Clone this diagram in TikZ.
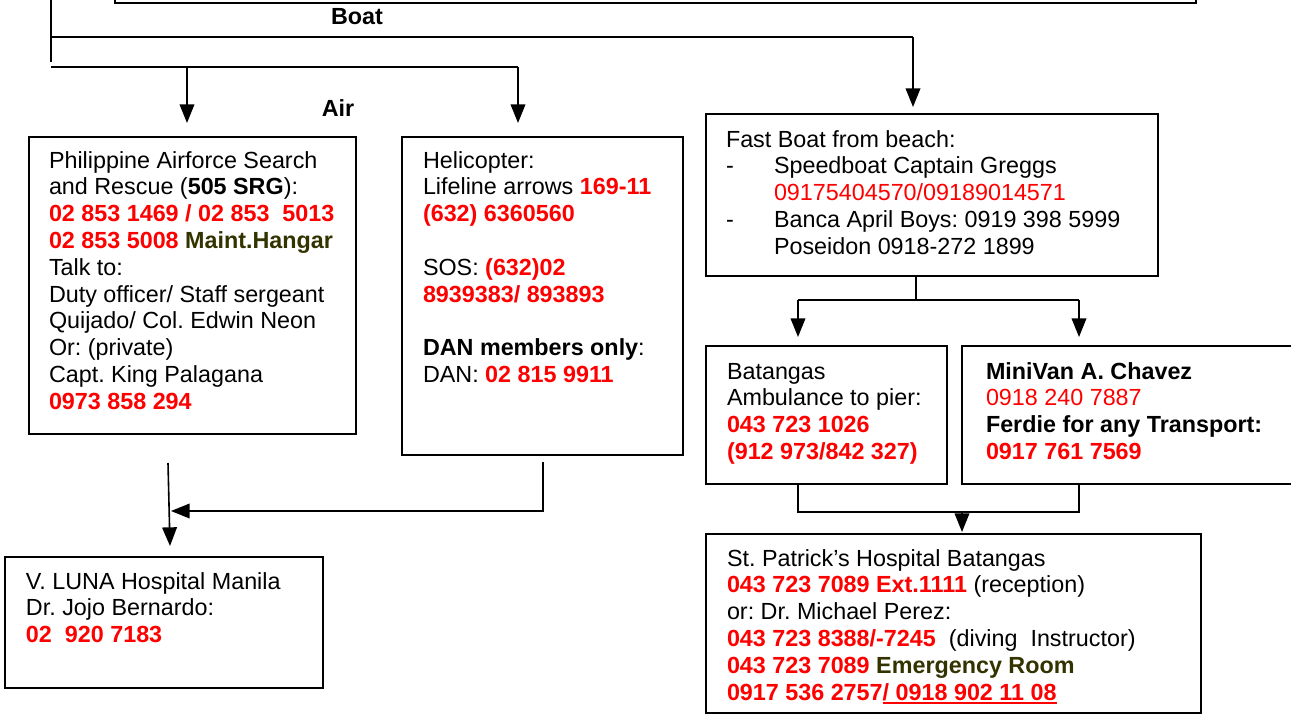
\documentclass[tikz,border=0pt]{standalone}
\usepackage{fontspec}
\setmainfont{Liberation Sans}
\usetikzlibrary{arrows.meta}
\definecolor{hotred}{RGB}{255,0,0}
\definecolor{darkolive}{RGB}{51,51,0}
\newcommand\rb[1]{\textcolor{hotred}{\textbf{#1}}}
\newcommand\rn[1]{\textcolor{hotred}{#1}}
\newcommand\ob[1]{\textcolor{darkolive}{\textbf{#1}}}
\newcommand\fstrut{\rule{0pt}{13pt}}
\newcommand\dsh{\makebox[36pt][l]{-}}
\newcommand\ind{\hspace*{36pt}}
\newcommand\thickul[1]{\setbox0\hbox{#1}\rlap{\rule[-3.2pt]{\wd0}{1.5pt}}\box0}
\begin{document}
\frenchspacing
\begin{tikzpicture}[x=0.75pt,y=-0.75pt,
  box/.style={draw, line width=1.3pt, inner sep=0pt, outer sep=0pt, anchor=north west},
  txt/.style={inner sep=0pt, outer sep=0pt, anchor=north west, align=left,
    font=\fontsize{17.5pt}{20.1pt}\selectfont},
  lbl/.style={inner sep=0pt, font=\fontsize{17.5pt}{20.1pt}\selectfont\bfseries},
  line/.style={line width=1.2pt},
  arr/.style={line width=1.2pt, -{Triangle[width=11pt,length=14pt]}}]
\useasboundingbox (0,0) rectangle (1291,715);
\fill[white] (0,0) rectangle (1291,715);

% boxes
\node[box, minimum width=1081*0.75pt, minimum height=40*0.75pt] (topbox) at (115,-37) {};
\node[box, minimum width=327*0.75pt, minimum height=297*0.75pt] (paf) at (29,137) {};
\node[box, minimum width=281*0.75pt, minimum height=318*0.75pt] (heli) at (402,137) {};
\node[box, minimum width=452*0.75pt, minimum height=162*0.75pt] (fast) at (706,114) {};
\node[box, minimum width=241*0.75pt, minimum height=138*0.75pt] (bat) at (706,346) {};
\node[box, minimum width=345*0.75pt, minimum height=138*0.75pt] (mini) at (962,346) {};
\node[box, minimum width=495*0.75pt, minimum height=179*0.75pt] (stpat) at (706,534) {};
\node[box, minimum width=318*0.75pt, minimum height=131*0.75pt] (vluna) at (5,557) {};

% texts
\node[txt] (paftxt) at (49,150.7) {\fstrut Philippine Airforce Search\\
and Rescue (\textbf{505 SRG}):\\
\rb{02 853 1469 / 02 853 \ 5013}\\
\rb{02 853 5008} \ob{Maint.Hangar}\\
Talk to:\\
Duty officer/ Staff sergeant\\
Quijado/ Col. Edwin Neon\\
Or: (private)\\
Capt. King Palagana\\
\rb{0973 858 294}};

\node[txt] (helitxt) at (423,150.7) {\fstrut Helicopter:\\
Lifeline arrows \rb{169-11}\\
\rb{(632) 6360560}\\
\mbox{}\\
SOS: \rb{(632)02}\\
\rb{8939383/ 893893}\\
\mbox{}\\
\textbf{DAN members only}:\\
DAN: \rb{02 815 9911}};

\node[txt] (fasttxt) at (726,129.7) {\fstrut Fast Boat from beach:\\
\dsh Speedboat Captain Greggs\\
\ind\rn{09175404570/09189014571}\\
\dsh Banca April Boys: 0919 398 5999\\
\ind Poseidon 0918-272 1899};

\node[txt] (battxt) at (727,361.7) {\fstrut Batangas\\
Ambulance to pier:\\
\rb{043 723 1026}\\
\rb{(912 973/842 327)}};

\node[txt] (minitxt) at (986,361.7) {\fstrut\textbf{MiniVan A. Chavez}\\
\rn{0918 240 7887}\\
\textbf{Ferdie for any Transport:}\\
\rb{0917 761 7569}};

\node[txt] (stpattxt) at (727,548.7) {\fstrut St. Patrick’s Hospital Batangas\\
\rb{043 723 7089 Ext.1111} (reception)\\
or: Dr. Michael Perez:\\
\rb{043 723 8388/-7245} \ (diving \ Instructor)\\
\rb{043 723 7089} \ob{Emergency Room}\\
\textcolor{hotred}{\bfseries 0917 536 2757\thickul{/ 0918 902 11 08}}};

\node[txt] (vlunatxt) at (26,571.7) {\fstrut V. LUNA Hospital Manila\\
Dr. Jojo Bernardo:\\
\rb{02 \ 920 7183}};

% labels
\node[lbl] (boat) at (357,17) {Boat};
\node[lbl] (air) at (338,108) {Air};

% connector points
\coordinate (vtop) at (51,-5);
\coordinate (vbot) at (51,62);
\coordinate (h1l) at (51,37);
\coordinate (h1r) at (913,37);
\coordinate (fastin) at (913,107);
\coordinate (h2l) at (51,67);
\coordinate (h2r) at (518,67);
\coordinate (pafin) at (187,123);
\coordinate (heliin) at (518,123);
\coordinate (fastout) at (916,276);
\coordinate (fork) at (916,300);
\coordinate (batin) at (798,337);
\coordinate (miniin) at (1079,337);
\coordinate (batout) at (798,484);
\coordinate (miniout) at (1079,484);
\coordinate (joinl) at (798,512);
\coordinate (joinr) at (1079,512);
\coordinate (joinm) at (962,512);
\coordinate (stpatin) at (962,532);
\coordinate (pafout) at (168,463);
\coordinate (vlunain) at (170,546);
\coordinate (heliout) at (543,462);
\coordinate (helicorner) at (543,511);
\coordinate (merge) at (171,511);

% connectors
\draw[line] (vtop) -- (vbot);
\draw[line] (h1l) -- (h1r);
\draw[arr] (h1r) -- (fastin);
\draw[line] (h2l) -- (h2r);
\draw[arr] (pafin |- h2l) -- (pafin);
\draw[arr] (h2r) -- (heliin);
\draw[line] (fastout) -- (fork);
\draw[line] (batin |- fork) -- (miniin |- fork);
\draw[arr] (batin |- fork) -- (batin);
\draw[arr] (miniin |- fork) -- (miniin);
\draw[line] (batout) -- (joinl) -- (joinr) -- (miniout);
\draw[arr] (joinm) -- (stpatin);
\draw[arr] (pafout) -- (vlunain);
\draw[arr] (heliout) -- (helicorner) -- (merge);
\end{tikzpicture}
\end{document}
